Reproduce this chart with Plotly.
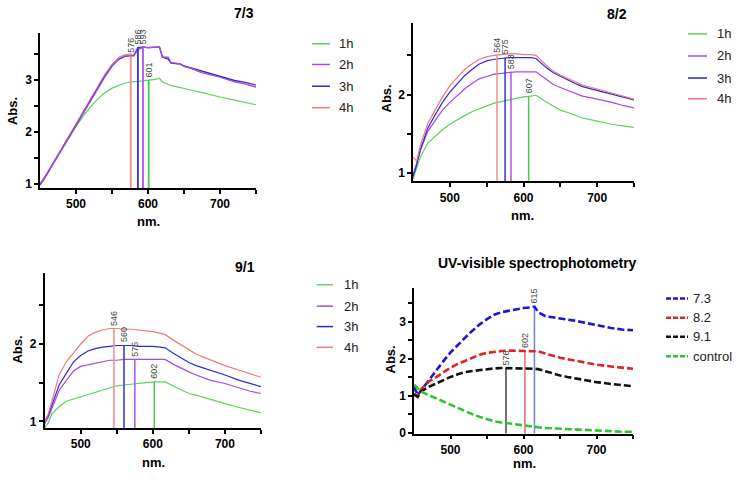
import plotly.graph_objects as go

W, H = 736, 483

# ---------------- data ----------------
# Panel 7/3
wl_73 = [450, 455, 460, 470, 480, 490, 500, 510, 520, 530, 540, 550, 560, 568, 576, 580,
         586, 593, 600, 610, 616, 620, 628, 632, 645, 650, 660, 674, 690, 700, 720, 735, 750]
abs73_1h = [1.0, 1.1, 1.2, 1.43, 1.66, 1.88, 2.1, 2.3, 2.48, 2.63, 2.75, 2.84, 2.9, 2.94, 2.96, 2.96,
            2.97, 2.98, 2.99, 3.01, 3.03, 2.96, 2.91, 2.89, 2.85, 2.83, 2.8, 2.76, 2.7, 2.67, 2.61, 2.56, 2.52]
abs73_2h = [1.0, 1.08, 1.2, 1.43, 1.66, 1.89, 2.12, 2.35, 2.6, 2.83, 3.05, 3.26, 3.41, 3.46, 3.46, 3.46,
            3.58, 3.63, 3.62, 3.63, 3.63, 3.44, 3.44, 3.33, 3.31, 3.26, 3.22, 3.14, 3.08, 3.05, 2.96, 2.92, 2.86]
abs73_3h = [0.98, 1.07, 1.19, 1.42, 1.66, 1.9, 2.13, 2.36, 2.6, 2.84, 3.07, 3.27, 3.4, 3.45, 3.46, 3.47,
            3.62, 3.63, 3.62, 3.63, 3.63, 3.44, 3.4, 3.32, 3.3, 3.27, 3.23, 3.17, 3.1, 3.07, 2.99, 2.95, 2.9]
abs73_4h = [0.99, 1.09, 1.21, 1.44, 1.68, 1.91, 2.14, 2.38, 2.62, 2.86, 3.1, 3.3, 3.44, 3.48, 3.5, 3.46,
            3.58, 3.63, 3.62, 3.63, 3.63, 3.44, 3.43, 3.33, 3.31, 3.26, 3.22, 3.15, 3.09, 3.05, 2.97, 2.92, 2.87]
peak73_wl = [601, 593, 586, 576]
peak73_abs = [2.99, 3.63, 3.63, 3.47]

# Panels 8/2 and 9/1 share a wavelength grid
wl_grid = [450, 455, 460, 470, 480, 490, 500, 510, 520, 530, 540, 550, 560, 570, 580, 590, 600,
           610, 617, 630, 640, 650, 660, 670, 680, 700, 720, 735, 750]
abs82_1h = [0.92, 1.05, 1.2, 1.38, 1.47, 1.55, 1.62, 1.68, 1.73, 1.78, 1.82, 1.86, 1.89, 1.91, 1.93,
            1.95, 1.97, 1.98, 1.99, 1.91, 1.85, 1.8, 1.77, 1.74, 1.7, 1.66, 1.62, 1.6, 1.58]
abs82_2h = [0.97, 1.12, 1.28, 1.53, 1.67, 1.8, 1.9, 1.99, 2.07, 2.14, 2.2, 2.23, 2.26, 2.27, 2.28,
            2.29, 2.29, 2.29, 2.29, 2.2, 2.13, 2.09, 2.05, 2.01, 1.98, 1.94, 1.9, 1.86, 1.83]
abs82_3h = [0.95, 1.1, 1.3, 1.57, 1.74, 1.9, 2.03, 2.14, 2.24, 2.32, 2.39, 2.43, 2.45, 2.46, 2.47,
            2.47, 2.47, 2.47, 2.46, 2.35, 2.28, 2.23, 2.19, 2.14, 2.1, 2.05, 2.0, 1.97, 1.93]
abs82_4h = [1.2, 1.15, 1.35, 1.63, 1.8, 1.97, 2.11, 2.22, 2.32, 2.39, 2.45, 2.48, 2.5, 2.51, 2.52,
            2.52, 2.51, 2.51, 2.5, 2.38, 2.3, 2.25, 2.21, 2.16, 2.12, 2.07, 2.02, 1.98, 1.94]
peak82_wl = [607, 583, 575, 564]
peak82_abs = [1.98, 2.29, 2.47, 2.5]

abs91_1h = [0.92, 0.98, 1.1, 1.19, 1.26, 1.29, 1.32, 1.35, 1.38, 1.41, 1.44, 1.46, 1.47, 1.48, 1.49,
            1.5, 1.51, 1.51, 1.51, 1.45, 1.4, 1.36, 1.34, 1.31, 1.29, 1.23, 1.18, 1.14, 1.11]
abs91_2h = [0.97, 1.05, 1.17, 1.4, 1.53, 1.65, 1.71, 1.73, 1.75, 1.77, 1.79, 1.79, 1.8, 1.8, 1.8,
            1.8, 1.8, 1.8, 1.8, 1.73, 1.68, 1.64, 1.6, 1.56, 1.53, 1.49, 1.43, 1.39, 1.36]
abs91_3h = [1.0, 1.08, 1.21, 1.47, 1.62, 1.77, 1.85, 1.91, 1.94, 1.96, 1.97, 1.98, 1.98, 1.98, 1.97,
            1.97, 1.97, 1.96, 1.95, 1.87, 1.81, 1.76, 1.72, 1.69, 1.66, 1.6, 1.53, 1.49, 1.45]
abs91_4h = [1.0, 1.1, 1.26, 1.6, 1.77, 1.89, 2.0, 2.1, 2.15, 2.18, 2.2, 2.2, 2.19, 2.19, 2.18,
            2.17, 2.16, 2.14, 2.12, 2.04, 1.98, 1.92, 1.87, 1.83, 1.79, 1.72, 1.66, 1.61, 1.57]
peak91_wl = [602, 575, 560, 546]
peak91_abs = [1.51, 1.8, 1.98, 2.2]

# Panel UV-visible summary
wl_uv = [450, 455, 460, 470, 480, 490, 500, 510, 520, 530, 540, 550, 560, 570, 580, 590, 600,
         610, 615, 620, 630, 640, 650, 660, 670, 680, 700, 720, 735, 750]
abs_73 = [1.24, 1.02, 1.15, 1.42, 1.68, 1.93, 2.17, 2.38, 2.57, 2.76, 2.93, 3.07, 3.19, 3.26, 3.3,
          3.33, 3.37, 3.39, 3.41, 3.26, 3.15, 3.12, 3.1, 3.06, 3.03, 2.99, 2.9, 2.83, 2.79, 2.77]
abs_82 = [1.02, 0.98, 1.18, 1.38, 1.5, 1.64, 1.76, 1.86, 1.95, 2.04, 2.11, 2.16, 2.19, 2.21, 2.22,
          2.22, 2.22, 2.22, 2.22, 2.2, 2.14, 2.08, 2.03, 1.99, 1.95, 1.91, 1.84, 1.79, 1.75, 1.73]
abs_91 = [1.05, 0.97, 1.12, 1.24, 1.33, 1.43, 1.51, 1.58, 1.64, 1.67, 1.7, 1.72, 1.74, 1.75, 1.75,
          1.75, 1.75, 1.74, 1.73, 1.72, 1.66, 1.6, 1.55, 1.51, 1.47, 1.44, 1.37, 1.32, 1.28, 1.26]
abs_ctrl = [1.3, 1.2, 1.11, 1.02, 0.93, 0.84, 0.75, 0.66, 0.58, 0.5, 0.43, 0.37, 0.31, 0.28, 0.25,
            0.22, 0.2, 0.17, 0.16, 0.15, 0.13, 0.12, 0.11, 0.09, 0.08, 0.07, 0.05, 0.04, 0.03, 0.03]
peakuv_wl = [576, 602, 615]
peakuv_abs = [1.75, 2.22, 3.41]

hour_names = ["1h", "2h", "3h", "4h"]
uv_names = ["7.3", "8.2", "9.1", "control"]
panel_titles = ["7/3", "8/2", "9/1", "UV-visible spectrophotometry"]

# ---------------- style ----------------
C_GREEN, C_PURPLE, C_BLUE, C_RED = "#5fcf5f", "#a64ae2", "#2a2ad6", "#ee7a7a"
hour_colors = [C_GREEN, C_PURPLE, C_BLUE, C_RED]
drop_colors_h = ["#4cc84c", "#a855e0", "#3333d6", "#ee8e8e"]
uv_colors = ["#1818d2", "#e02424", "#111111", "#2cc42c"]
uv_drop_colors = ["#444444", "#e06a6a", "#7282c6"]
FONT = "Arial, 'Liberation Sans', sans-serif"


def px2x(px):
    return px / W


def px2y(py):
    return 1 - py / H


# panel geometry (pixels): x_left, x_right, y_top, y_bottom ; y-range
panels = [
    dict(x0=40, x1=256, y0=33, y1=190.5, yr=[0.915, 3.91], yt=[1, 1.5, 2, 2.5, 3, 3.5]),
    dict(x0=413, x1=634, y0=23.3, y1=183.7, yr=[0.89, 2.913], yt=[1, 1.5, 2, 2.5]),
    dict(x0=44.7, x1=261, y0=276.7, y1=433.3, yr=[0.916, 2.913], yt=[1, 1.5, 2, 2.5]),
    dict(x0=414, x1=633, y0=291.7, y1=439, yr=[-0.02, 3.91], yt=[0, 0.5, 1, 1.5, 2, 2.5, 3, 3.5]),
]

fig = go.Figure()
layout = dict(width=W, height=H, margin=dict(l=0, r=0, t=0, b=0),
              paper_bgcolor="white", plot_bgcolor="white", showlegend=False,
              font=dict(family=FONT, color="black"))
annotations = []
shapes = []

for i, p in enumerate(panels):
    sx = "" if i == 0 else str(i + 1)
    ax_common = dict(showgrid=False, zeroline=False, showline=True, linecolor="black", linewidth=1.5,
                     ticks="outside", ticklen=4, tickwidth=1.5, tickcolor="black",
                     tickfont=dict(family=FONT, size=12, color="black", weight="bold"))
    layout["xaxis" + sx] = dict(ax_common, domain=[px2x(p["x0"]), px2x(p["x1"])], range=[450, 750],
                                anchor="y" + sx, tickvals=[500, 550, 600, 650, 700, 750],
                                ticktext=["500", "", "600", "", "700", ""])
    layout["yaxis" + sx] = dict(ax_common, domain=[px2y(p["y1"]), px2y(p["y0"])], range=p["yr"],
                                anchor="x" + sx, tickvals=p["yt"],
                                ticktext=[("%g" % v) if float(v).is_integer() else "" for v in p["yt"]])


def add_lines(xref, yref, wl, series, colors, width=1.2, dash=None):
    for ys, c in zip(series, colors):
        fig.add_trace(go.Scatter(x=wl, y=ys, mode="lines", xaxis=xref, yaxis=yref,
                                 line=dict(color=c, width=width, dash=dash), hoverinfo="skip"))


def add_drops(xref, yref, ybot, wls, vals, colors, width=1.5):
    for w_, v, c in zip(wls, vals, colors):
        fig.add_trace(go.Scatter(x=[w_, w_], y=[ybot, v], mode="lines", xaxis=xref, yaxis=yref,
                                 line=dict(color=c, width=width), hoverinfo="skip"))
        annotations.append(dict(x=w_, y=v, xref=xref, yref=yref, text=str(w_), textangle=-90,
                                showarrow=False, yanchor="bottom", xanchor="center", yshift=1,
                                font=dict(family=FONT, size=9, color="#444444")))


# Panel 1: 7/3
add_lines("x", "y", wl_73, [abs73_1h, abs73_4h, abs73_3h, abs73_2h],
          [C_GREEN, C_RED, C_BLUE, C_PURPLE])
add_drops("x", "y", panels[0]["yr"][0], peak73_wl, peak73_abs, drop_colors_h, width=1.8)
# Panel 2: 8/2
add_lines("x2", "y2", wl_grid, [abs82_1h, abs82_2h, abs82_3h, abs82_4h], hour_colors)
add_drops("x2", "y2", panels[1]["yr"][0], peak82_wl, peak82_abs, drop_colors_h)
# Panel 3: 9/1
add_lines("x3", "y3", wl_grid, [abs91_1h, abs91_2h, abs91_3h, abs91_4h], hour_colors)
add_drops("x3", "y3", panels[2]["yr"][0], peak91_wl, peak91_abs, drop_colors_h)
# Panel 4: summary
add_drops("x4", "y4", panels[3]["yr"][0], peakuv_wl, peakuv_abs, uv_drop_colors)
add_lines("x4", "y4", wl_uv, [abs_73, abs_82, abs_91, abs_ctrl], uv_colors, width=2.6, dash="7px,3px")

# Panel titles
title_pos = [(244, 13.5), (617, 14), (245, 270), (537, 266.7)]
for t, (tx, ty) in zip(panel_titles, title_pos):
    annotations.append(dict(x=px2x(tx), y=px2y(ty), xref="paper", yref="paper", text=t, showarrow=False,
                            xanchor="center", yanchor="middle",
                            font=dict(family=FONT, size=14, color="black", weight="bold")))

# Axis titles
xt_pos = [(148, 224), (522, 218), (153, 468), (524, 469)]
yt_pos = [(12.5, 113), (386.7, 100), (18, 354), (390, 364)]
for (ax_, ay_), (bx_, by_) in zip(xt_pos, yt_pos):
    annotations.append(dict(x=px2x(ax_), y=px2y(ay_), xref="paper", yref="paper", text="nm.",
                            showarrow=False, xanchor="center", yanchor="middle",
                            font=dict(family=FONT, size=13, color="black", weight="bold")))
    annotations.append(dict(x=px2x(bx_), y=px2y(by_), xref="paper", yref="paper", text="Abs.",
                            showarrow=False, xanchor="center", yanchor="middle", textangle=-90,
                            font=dict(family=FONT, size=13, color="black", weight="bold")))

# Legends (drawn manually)
legends = [
    dict(names=hour_names, colors=hour_colors, lx0=312, lx1=330, tx=337, rows=[44.3, 65.3, 87.3, 109], dash=None, w=1.5),
    dict(names=hour_names, colors=hour_colors, lx0=688, lx1=707, tx=715, rows=[34.3, 56.7, 79, 100], dash=None, w=1.5),
    dict(names=hour_names, colors=hour_colors, lx0=316.7, lx1=333, tx=342, rows=[288.3, 310, 330.7, 351.7], dash=None, w=1.5),
    dict(names=uv_names, colors=uv_colors, lx0=666, lx1=688, tx=691, rows=[302.3, 321.7, 341, 360.7], dash="5px,2px", w=2.6),
]
for lg in legends:
    for nm, c, ry in zip(lg["names"], lg["colors"], lg["rows"]):
        shapes.append(dict(type="line", xref="paper", yref="paper", x0=px2x(lg["lx0"]), x1=px2x(lg["lx1"]),
                           y0=px2y(ry), y1=px2y(ry), line=dict(color=c, width=lg["w"], dash=lg["dash"])))
        annotations.append(dict(x=px2x(lg["tx"]), y=px2y(ry), xref="paper", yref="paper", text=nm,
                                showarrow=False, xanchor="left", yanchor="middle",
                                font=dict(family=FONT, size=13, color="#222222")))

layout["annotations"] = annotations
layout["shapes"] = shapes
fig.update_layout(**layout)
fig.write_html("out.html")
